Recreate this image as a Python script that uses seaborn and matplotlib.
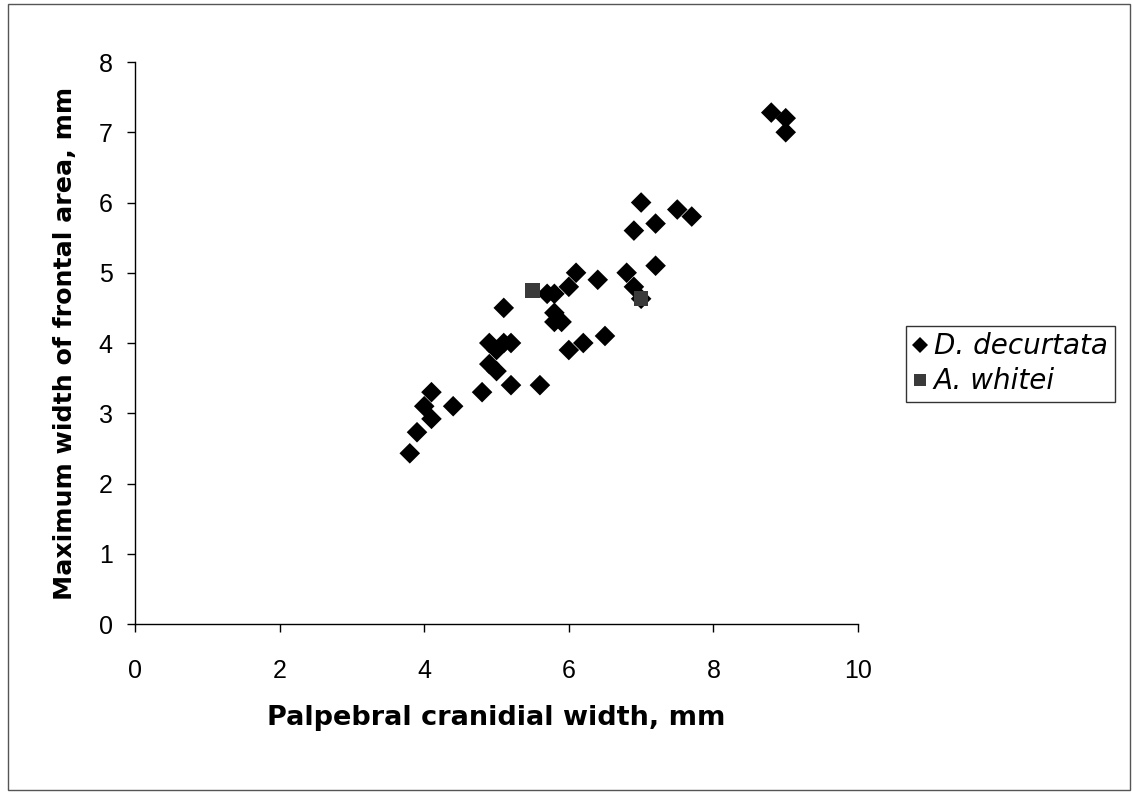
import numpy as np
import pandas as pd
import matplotlib
matplotlib.use('Agg')
import matplotlib.pyplot as plt
import seaborn as sns
from matplotlib.patches import Rectangle

# D. decurtata measurements (mm)
decurtata_x = [3.8, 3.9, 4.0, 4.1, 4.1, 4.4, 4.8, 4.9, 4.9, 5.0, 5.0, 5.1, 5.1, 5.2, 5.2,
               5.6, 5.7, 5.8, 5.8, 5.8, 5.9, 6.0, 6.0, 6.1, 6.2, 6.4, 6.5, 6.8, 6.9, 6.9,
               7.0, 7.0, 7.2, 7.2, 7.5, 7.7, 8.8, 9.0, 9.0]
decurtata_y = [2.43, 2.73, 3.1, 3.3, 2.92, 3.1, 3.3, 4.0, 3.7, 3.9, 3.6, 4.5, 4.0, 4.0, 3.4,
               3.4, 4.7, 4.7, 4.43, 4.3, 4.3, 4.8, 3.9, 5.0, 4.0, 4.9, 4.1, 5.0, 5.6, 4.8,
               6.0, 4.63, 5.7, 5.1, 5.9, 5.8, 7.28, 7.2, 7.0]

# A. whitei measurements (mm)
whitei_x = [5.5, 7.0]
whitei_y = [4.75, 4.63]

species_names = ['D. decurtata', 'A. whitei']

df = pd.concat([
    pd.DataFrame({'x': decurtata_x, 'y': decurtata_y, 'species': species_names[0]}),
    pd.DataFrame({'x': whitei_x, 'y': whitei_y, 'species': species_names[1]}),
], ignore_index=True)

sns.set_style('white')
plt.rcParams['font.family'] = ['Liberation Sans', 'DejaVu Sans']
plt.rcParams['text.color'] = 'black'
plt.rcParams['axes.labelcolor'] = 'black'
plt.rcParams['xtick.color'] = 'black'
plt.rcParams['ytick.color'] = 'black'

fig = plt.figure(figsize=(11.33, 7.94), dpi=100)
ax = fig.add_axes([0.1192, 0.2141, 0.6381, 0.7078])

sns.scatterplot(data=df, x='x', y='y', hue='species', style='species',
                markers={'D. decurtata': 'D', 'A. whitei': 's'},
                palette={'D. decurtata': 'black', 'A. whitei': '#3a3a3a'},
                s=110, edgecolor='none', linewidth=0, ax=ax, legend=True)

ax.set_xlim(0, 10)
ax.set_ylim(0, 8)
ax.set_xticks(range(0, 11, 2))
ax.set_yticks(range(0, 9))
ax.tick_params(axis='both', direction='out', length=6, width=1,
               labelsize=18, left=True, bottom=True)
ax.tick_params(axis='x', pad=19)
ax.tick_params(axis='y', pad=10)
for side in ['top', 'right']:
    ax.spines[side].set_visible(False)
for side in ['left', 'bottom']:
    ax.spines[side].set_color('black')
    ax.spines[side].set_linewidth(1)

ax.set_xlabel('Palpebral cranidial width, mm', family='DejaVu Sans', size=19.5,
              weight='bold', labelpad=16)
ax.set_ylabel('Maximum width of frontal area, mm', family='DejaVu Sans', size=18.2,
              weight='bold', labelpad=16)

handles, labels = ax.get_legend_handles_labels()
ax.legend(handles, labels, loc='center left', bbox_to_anchor=(0.7996, 0.5416),
          bbox_transform=fig.transFigure, frameon=True, fancybox=False,
          edgecolor='black', prop={'family': 'DejaVu Sans', 'style': 'italic', 'size': 20},
          handlelength=0.5, handletextpad=0.25, borderpad=0.25, labelspacing=0.25,
          borderaxespad=0, markerscale=0.8)
ax.get_legend().get_frame().set_linewidth(1)

# thin border around the whole chart
fig.patches.append(Rectangle((0.007, 0.005), 0.99, 0.99, transform=fig.transFigure,
                             fill=False, edgecolor='#555555', linewidth=1))

fig.savefig('out.png', dpi=100)
